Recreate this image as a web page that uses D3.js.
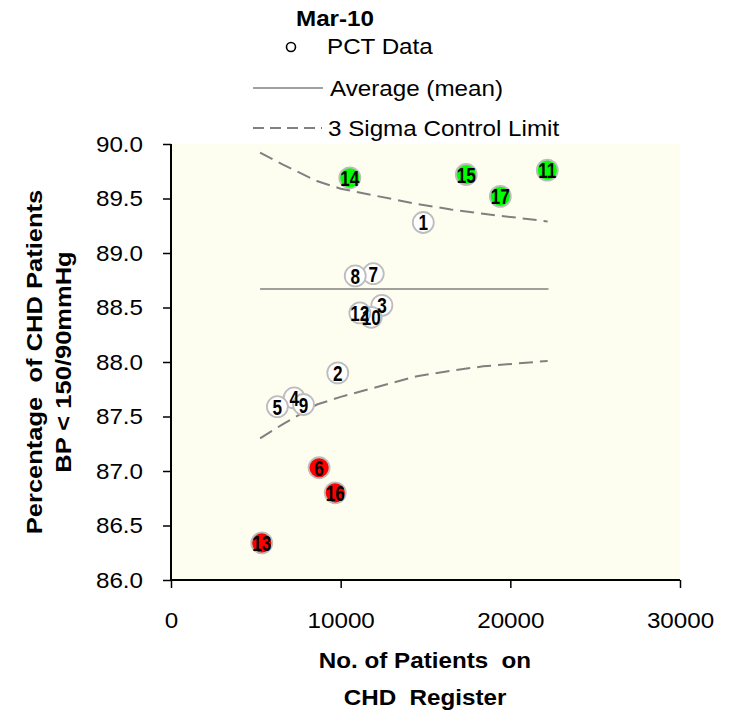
<!DOCTYPE html>
<html>
<head>
<meta charset="utf-8">
<script src="https://cdn.jsdelivr.net/npm/d3@7"></script>
<style>
  body { margin: 0; background: #fff; }
  svg { display: block; }
  text { font-family: "Liberation Sans", Arial, sans-serif; }
</style>
</head>
<body>
<svg id="chart" width="738" height="718"></svg>
<script>
// ---- Data ----
const pctIds    = ["1","2","3","4","5","6","7","8","9","10","11","12","13","14","15","16","17"];
const pctSize   = [14870, 9830, 12430, 7260, 6270, 8730, 11920, 10860, 7810, 11800, 22180, 11130, 5350, 10540, 17400, 9680, 19410];
const pctValue  = [89.28, 87.90, 88.52, 87.67, 87.59, 87.03, 88.81, 88.79, 87.61, 88.41, 89.76, 88.45, 86.34, 89.69, 89.72, 86.80, 89.52];
const pctStatus = ["in","in","in","in","in","low","in","in","in","in","high","in","low","high","high","low","high"];

const meanValue = 88.67;
const meanRange = [5250, 22250];

const limitSize  = [5250, 6600, 8600, 10000, 11900, 14500, 16500, 18400, 22200];
const upperLimit = [89.92, 89.81, 89.66, 89.59, 89.53, 89.45, 89.40, 89.36, 89.29];
const lowerLimit = [87.30, 87.43, 87.61, 87.68, 87.76, 87.87, 87.92, 87.96, 88.01];

const xTicks = [0, 10000, 20000, 30000];
const yTicks = [86.0, 86.5, 87.0, 87.5, 88.0, 88.5, 89.0, 89.5, 90.0];

const chartTitle = "Mar-10";
const legendLabels = ["PCT Data", "Average (mean)", "3 Sigma Control Limit"];
const xTitle = ["No. of Patients  on", "CHD  Register"];
const yTitle = ["Percentage  of CHD Patients", "BP < 150/90mmHg"];

// ---- Layout ----
const svg = d3.select("#chart");
const pLeft = 171, pRight = 680, pTop = 144, pBottom = 580;
const FS = 22, SX = 1.1;

const x = d3.scaleLinear().domain([0, 30000]).range([pLeft, pRight]);
const y = d3.scaleLinear().domain([86, 90]).range([pBottom, pTop]);

function addText(px, py, str, opts = {}) {
  const k = opts.sx || SX;
  const rot = opts.rotate ? ` rotate(${opts.rotate})` : "";
  return svg.append("text")
    .attr("transform", `translate(${px},${py})${rot} scale(${k},1)`)
    .attr("text-anchor", opts.anchor || "start")
    .attr("xml:space", "preserve")
    .style("white-space", "pre")
    .style("font-size", (opts.size || FS) + "px")
    .style("font-weight", opts.bold ? "bold" : "normal")
    .attr("fill", "#000")
    .text(str);
}

// plot background
svg.append("rect")
  .attr("x", pLeft).attr("y", pTop)
  .attr("width", pRight - pLeft).attr("height", pBottom - pTop)
  .attr("fill", "#FEFEF0");

// axes
const xAxis = svg.append("g").attr("transform", `translate(0,${pBottom})`)
  .call(d3.axisBottom(x).tickValues(xTicks).tickSize(8).tickPadding(24).tickFormat(d3.format("d")));
const yAxis = svg.append("g").attr("transform", `translate(${pLeft},0)`)
  .call(d3.axisLeft(y).tickValues(yTicks).tickSize(8).tickPadding(20).tickFormat(d3.format(".1f")));

[xAxis, yAxis].forEach(g => {
  g.select(".domain").attr("stroke", "#000").attr("stroke-width", 2);
  g.selectAll(".tick line").attr("stroke", "#000").attr("stroke-width", 1.5);
  g.selectAll(".tick text").each(function () {
    const t = d3.select(this);
    const tx = +t.attr("x") || 0, ty = +t.attr("y") || 0;
    t.attr("x", null).attr("y", null)
      .attr("transform", `translate(${tx},${ty}) scale(${SX},1)`)
      .attr("fill", "#000")
      .style("font-size", FS + "px")
      .style("font-family", "'Liberation Sans', Arial, sans-serif");
  });
});
xAxis.select(".domain").attr("d", `M${pLeft},0H${pRight}`);
yAxis.select(".domain").attr("d", `M0,${pBottom + 1}V${pTop}`);

// mean line
svg.append("line")
  .attr("x1", x(meanRange[0])).attr("x2", x(meanRange[1]))
  .attr("y1", y(meanValue)).attr("y2", y(meanValue))
  .attr("stroke", "#808080").attr("stroke-width", 1.6);

// control limits
const line = d3.line().x(d => x(d[0])).y(d => y(d[1]));
[upperLimit, lowerLimit].forEach(arr => {
  svg.append("path")
    .attr("d", line(limitSize.map((s, i) => [s, arr[i]])))
    .attr("fill", "none")
    .attr("stroke", "#808080").attr("stroke-width", 2)
    .attr("stroke-dasharray", "14,7");
});

// points
const fillFor = s => s === "high" ? "#00FF00" : s === "low" ? "#FF0000" : "#FFFFFF";
const pts = pctIds.map((id, i) => ({ id, sx: pctSize[i], v: pctValue[i], s: pctStatus[i] }));
pts.forEach(d => {
  svg.append("circle")
    .attr("cx", x(d.sx)).attr("cy", y(d.v)).attr("r", 10.5)
    .attr("fill", fillFor(d.s))
    .attr("stroke", "#BDBDBD").attr("stroke-width", 1.8);
});
pts.forEach(d => {
  addText(x(d.sx), y(d.v) + 8, d.id, { anchor: "middle", bold: true, size: 22, sx: 0.78 });
});

// title & legend
addText(335, 26, chartTitle, { anchor: "middle", bold: true });

svg.append("circle").attr("cx", 291).attr("cy", 47).attr("r", 4.5)
  .attr("fill", "none").attr("stroke", "#000").attr("stroke-width", 1.6);
addText(327, 54, legendLabels[0]);

svg.append("line").attr("x1", 253).attr("x2", 323).attr("y1", 88).attr("y2", 88)
  .attr("stroke", "#808080").attr("stroke-width", 1.6);
addText(330, 96, legendLabels[1]);

svg.append("line").attr("x1", 253).attr("x2", 322).attr("y1", 128).attr("y2", 128)
  .attr("stroke", "#808080").attr("stroke-width", 2).attr("stroke-dasharray", "11,6");
addText(328, 136, legendLabels[2]);

// axis titles
xTitle.forEach((t, i) => addText(425, 668 + i * 37, t, { anchor: "middle", bold: true }));
yTitle.forEach((t, i) => addText(42 + i * 29, 362, t, { anchor: "middle", bold: true, rotate: -90, sx: 1.16 }));
</script>
</body>
</html>
